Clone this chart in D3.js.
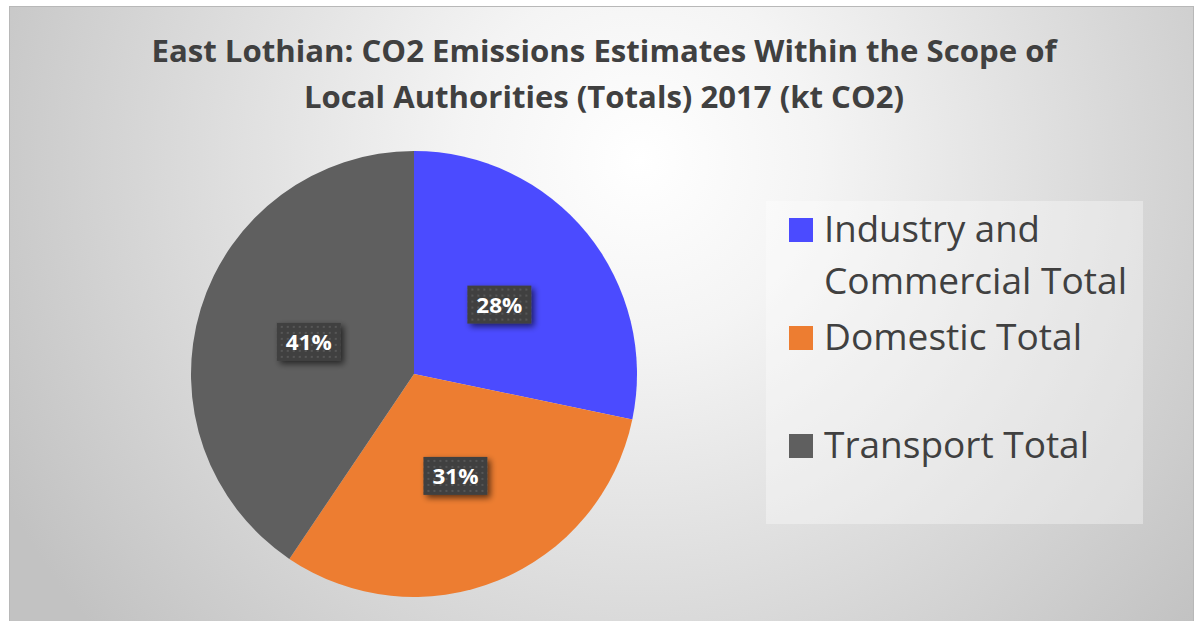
<!DOCTYPE html>
<html><head><meta charset="utf-8">
<script src="https://cdn.jsdelivr.net/npm/d3@7"></script>
<style>html,body{margin:0;padding:0;background:#fff;overflow:hidden}</style>
</head><body><svg id="c" width="1197" height="621"></svg>
<script>
const categories = ["Industry and Commercial Total", "Domestic Total", "Transport Total"];
const legendLines = [["Industry and", "Commercial Total"], ["Domestic Total"], ["Transport Total"]];
const values = [28.3, 31.2, 40.6];
const colors = ["#4B4BFF", "#ED7D31", "#5F5F5F"];
const titleLines = ["East Lothian: CO2 Emissions Estimates Within the Scope of", "Local Authorities (Totals) 2017 (kt CO2)"];

const svg = d3.select("#c");
const defs = svg.append("defs");
const rg = defs.append("radialGradient").attr("id","bg").attr("gradientUnits","userSpaceOnUse")
  .attr("cx",640).attr("cy",160).attr("r",720);
rg.append("stop").attr("offset",0).attr("stop-color","#ffffff");
rg.append("stop").attr("offset",0.25).attr("stop-color","#f4f4f4");
rg.append("stop").attr("offset",1).attr("stop-color","#c2c2c2");

const pat = defs.append("pattern").attr("id","dots").attr("patternUnits","userSpaceOnUse")
  .attr("width",6).attr("height",6);
pat.append("rect").attr("width",6).attr("height",6).attr("fill","#404040");
pat.append("rect").attr("x",2).attr("y",2).attr("width",2).attr("height",2).attr("fill","#565656");

const f = defs.append("filter").attr("id","sh").attr("x","-30%").attr("y","-30%").attr("width","160%").attr("height","160%");
f.append("feGaussianBlur").attr("in","SourceAlpha").attr("stdDeviation",3).attr("result","b");
f.append("feOffset").attr("in","b").attr("dx",3).attr("dy",3).attr("result","o");
f.append("feComponentTransfer").attr("in","o").attr("result","o2").append("feFuncA").attr("type","linear").attr("slope",0.6);
const fm = f.append("feMerge"); fm.append("feMergeNode").attr("in","o2"); fm.append("feMergeNode").attr("in","SourceGraphic");

svg.append("rect").attr("x",9.5).attr("y",6.5).attr("width",1184).attr("height",616)
  .attr("fill","url(#bg)").attr("stroke","#b8b8b8").attr("stroke-width",1);

// title
const titleY = [62, 108];
const titleW = [905, 600];
svg.selectAll("text.title").data(titleLines).join("text").attr("class","title")
  .attr("x",604).attr("y",(d,i)=>titleY[i]).attr("text-anchor","middle")
  .attr("font-family","'Open Sans', sans-serif").attr("font-weight",700).attr("font-size",31)
  .attr("fill","#404040")
  .attr("textLength",(d,i)=>titleW[i]).attr("lengthAdjust","spacingAndGlyphs")
  .text(d=>d);

// pie
const cx = 414, cy = 374, R = 223;
const pie = d3.pie().sort(null).value(d=>d);
const arcs = pie(values);
const arc = d3.arc().innerRadius(0).outerRadius(R);
const g = svg.append("g").attr("transform",`translate(${cx},${cy})`);
g.selectAll("path").data(arcs).join("path").attr("d",arc).attr("fill",(d,i)=>colors[i]);

const total = d3.sum(values);
const labelArc = d3.arc().innerRadius(110).outerRadius(110);
const lg = g.selectAll("g.lab").data(arcs).join("g").attr("class","lab")
  .attr("transform",d=>`translate(${labelArc.centroid(d)})`);
lg.append("rect").attr("x",-32).attr("y",-19).attr("width",64).attr("height",38)
  .attr("fill","url(#dots)").attr("filter","url(#sh)");
lg.append("text").attr("text-anchor","middle").attr("y",8)
  .attr("font-family","'Open Sans', sans-serif").attr("font-weight",700).attr("font-size",21)
  .attr("fill","#ffffff")
  .attr("textLength",46).attr("lengthAdjust","spacingAndGlyphs")
  .text(d=>Math.round(d.value/total*100)+"%");

// legend
svg.append("rect").attr("x",766).attr("y",201).attr("width",377).attr("height",323)
  .attr("fill","#ffffff").attr("fill-opacity",0.35);
const legY = [218, 326, 434];
const leg = svg.selectAll("g.leg").data(categories).join("g").attr("class","leg")
  .attr("transform",(d,i)=>`translate(789,${legY[i]})`);
leg.append("rect").attr("width",24).attr("height",24).attr("fill",(d,i)=>colors[i]);
const lineW = {"Industry and":216, "Commercial Total":303, "Domestic Total":258, "Transport Total":265};
leg.each(function(d,i){
  d3.select(this).selectAll("text").data(legendLines[i]).join("text")
    .attr("x",35).attr("y",(t,j)=>24+j*52)
    .attr("font-family","'Open Sans', sans-serif").attr("font-size",36).attr("fill","#404040")
    .attr("textLength",t=>lineW[t]).attr("lengthAdjust","spacingAndGlyphs")
    .text(t=>t);
});
</script></body></html>
